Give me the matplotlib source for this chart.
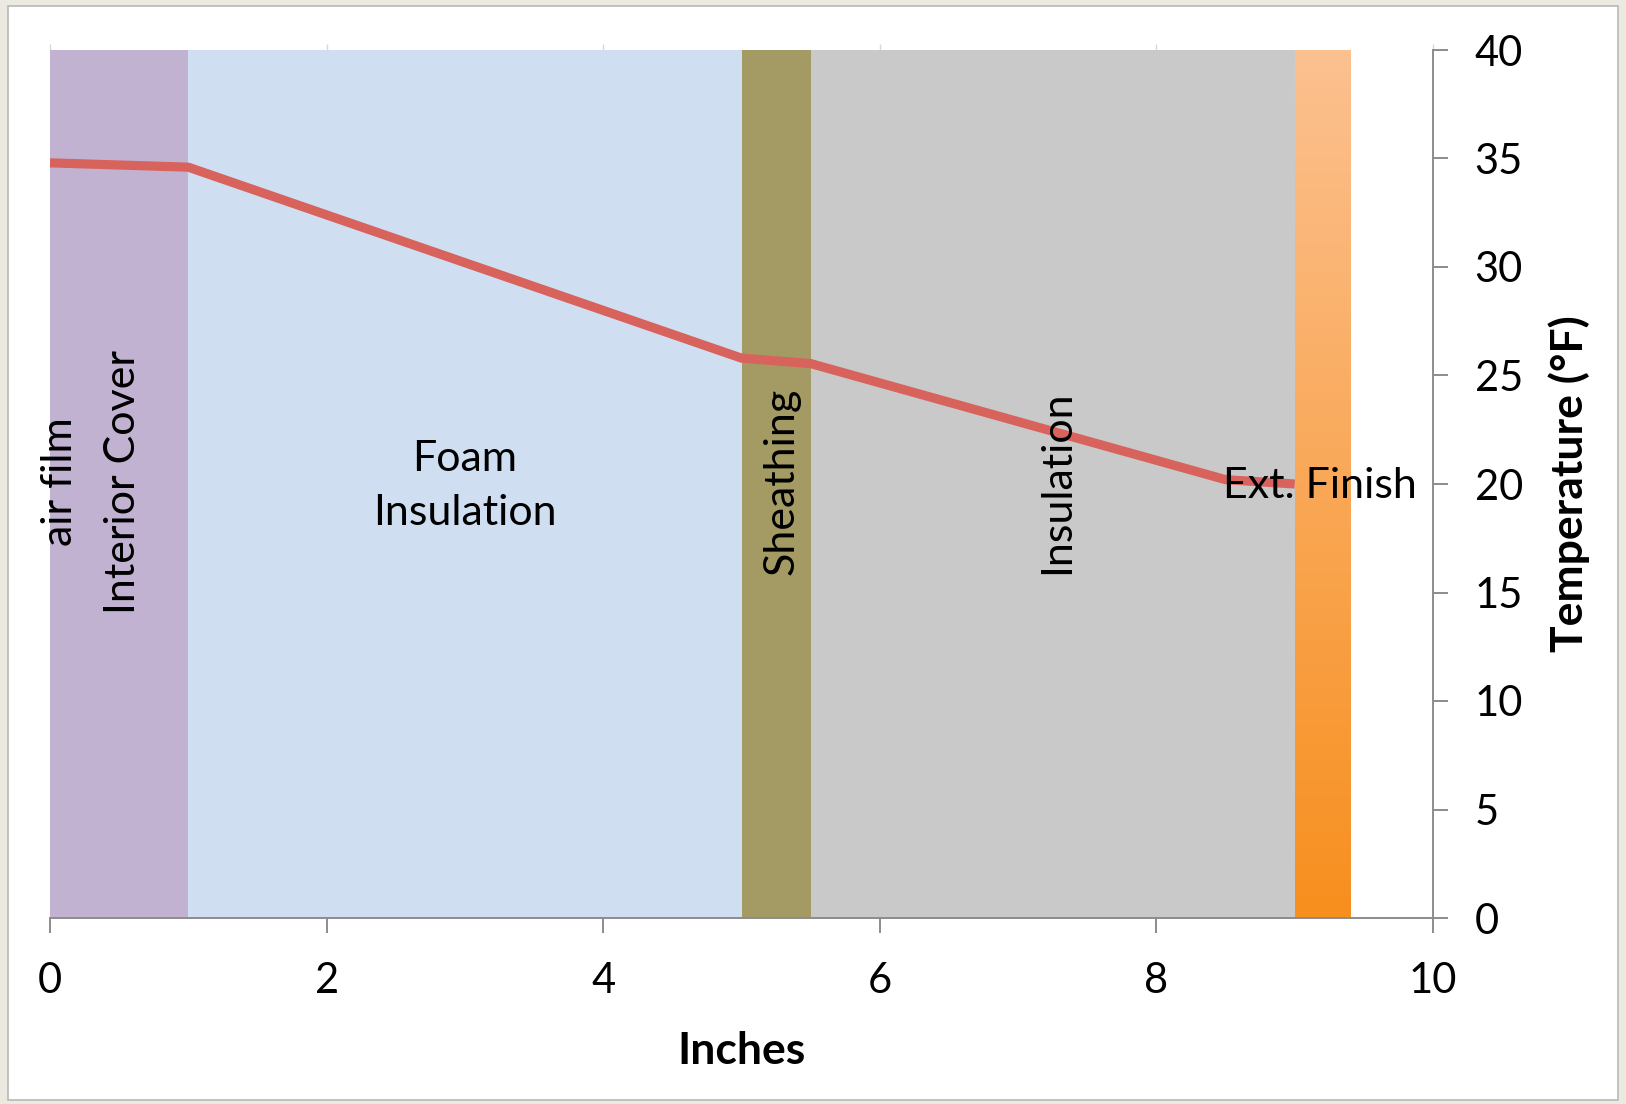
import matplotlib
matplotlib.use("Agg")
import matplotlib.pyplot as plt
import numpy as np
from matplotlib.colors import LinearSegmentedColormap
from matplotlib.patches import Rectangle

plt.rcParams['font.family'] = ['Lato', 'DejaVu Sans']

# Layers (inches)
layer_names = ["Interior Cover", "Foam\nInsulation", "Sheathing", "Insulation", "Ext. Finish"]
layer_start = [0.0, 1.0, 5.0, 5.5, 9.0]
layer_width = [1.0, 4.0, 0.5, 3.5, 0.4]
layer_colors = ["#C1B2D1", "#CFDFF1", "#A39B63", "#C9C9C9", None]
layer_top = 40

# Temperature profile
pos_in = [0.0, 1.0, 5.0, 5.5, 8.5, 9.0]
temp_f = [34.8, 34.6, 25.8, 25.55, 20.2, 20.0]

x_ticks = [0, 2, 4, 6, 8, 10]
y_ticks = [0, 5, 10, 15, 20, 25, 30, 35, 40]

fig = plt.figure(figsize=(16.26, 11.04), dpi=100)
fig.patch.set_facecolor("#ECEAE0")
bg = Rectangle((8/1626, 4/1104), 1610/1626, 1094/1104, transform=fig.transFigure,
               facecolor="white", edgecolor="#B8B8B8", linewidth=1.2, zorder=-10)
fig.add_artist(bg)

ax = fig.add_axes([50/1626, 186/1104, 1383/1626, 868/1104])
ax.set_facecolor("none")
ax.set_zorder(1)

# layer bars
for s, w, c in zip(layer_start, layer_width, layer_colors):
    if c is not None:
        ax.bar(s, layer_top, width=w, align='edge', color=c, linewidth=0, zorder=1)

# gradient finish layer
grad_cmap = LinearSegmentedColormap.from_list("fin", ["#F78F1E", "#FCC190"])
grad = np.linspace(0, 1, 256).reshape(-1, 1)
ax.imshow(grad, cmap=grad_cmap, origin='lower', aspect='auto',
          extent=(layer_start[4], layer_start[4] + layer_width[4], 0, layer_top), zorder=1)

# temperature line
ax.plot(pos_in, temp_f, color="#D8625C", linewidth=6.6, solid_joinstyle='round',
        solid_capstyle='butt', zorder=3)

fs = 31
# labels
ax.text(0.07, 20.1, "air film", rotation=90, ha='center', va='center', fontsize=fs, zorder=4)
ax.text(0.53, 20.1, layer_names[0], rotation=90, ha='center', va='center', fontsize=fs, zorder=4)
ax.text(3.0, 19.9, layer_names[1], ha='center', va='center', fontsize=fs, linespacing=1.5, zorder=4)
ax.text(5.29, 20.1, layer_names[2], rotation=90, ha='center', va='center', fontsize=fs, zorder=4)
ax.text(7.28, 20.1, layer_names[3], rotation=90, ha='center', va='center', fontsize=fs, zorder=4)
ax.text(9.18, 19.9, layer_names[4], ha='center', va='center', fontsize=fs, zorder=4)

ax.set_xlim(0, 10)
ax.set_ylim(0, 40)
ax.set_xticks(x_ticks)
ax.set_yticks(y_ticks)
ax.yaxis.tick_right()
ax.yaxis.set_label_position('right')

for sp in ['left', 'top']:
    ax.spines[sp].set_visible(False)
for sp in ['right', 'bottom']:
    ax.spines[sp].set_color('#8C8C8C')
    ax.spines[sp].set_linewidth(1.4)
    ax.spines[sp].set_zorder(5)

ax.tick_params(axis='x', length=11, width=1.4, color='#8C8C8C', pad=21, labelsize=30)
ax.tick_params(axis='y', length=11, width=1.4, color='#8C8C8C', pad=19, labelsize=30)

sec = ax.secondary_xaxis('top')
sec.set_xticks(x_ticks)
sec.tick_params(length=4, width=1.0, color='#D8D8D8', labeltop=False)
for sp in sec.spines.values():
    sp.set_visible(False)

ax.set_xlabel("Inches", fontsize=32, fontweight='bold', labelpad=22)
ax.set_ylabel("Temperature (°F)", fontsize=32, fontweight='bold', labelpad=18)

fig.savefig("out.png", dpi=100, facecolor=fig.get_facecolor())
